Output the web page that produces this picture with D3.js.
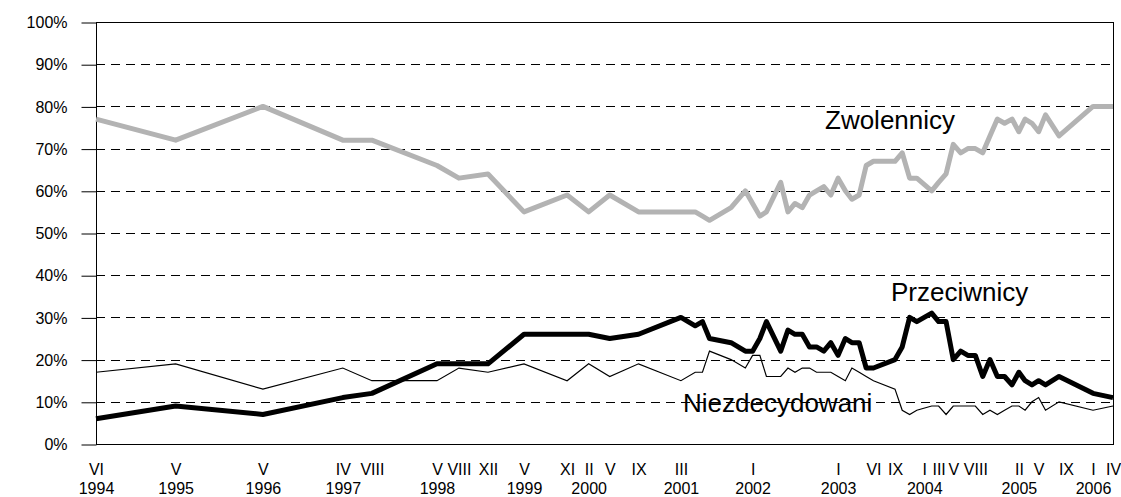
<!DOCTYPE html>
<html>
<head>
<meta charset="utf-8">
<script src="https://cdn.jsdelivr.net/npm/d3@7"></script>
<style>
body { margin: 0; background: #fff; }
text { font-family: "Liberation Sans", Arial, sans-serif; fill: #000; }
</style>
</head>
<body>
<script>
// survey dates (year-month)
var dates = ["1994-06","1995-05","1996-05","1997-04","1997-08","1998-05","1998-08","1998-12",
    "1999-05","1999-11","2000-02","2000-05","2000-09","2001-03","2001-05","2001-06","2001-07",
    "2001-10","2001-12","2002-01","2002-02","2002-03","2002-05","2002-06","2002-07","2002-08",
    "2002-09","2002-10","2002-11","2002-12","2003-01","2003-02","2003-03","2003-04","2003-05",
    "2003-06","2003-09","2003-10","2003-11","2003-12","2004-02","2004-03","2004-04","2004-05",
    "2004-06","2004-07","2004-08","2004-09","2004-10","2004-11","2004-12","2005-01","2005-02",
    "2005-03","2005-04","2005-05","2005-06","2005-08","2006-01","2006-04"];

var zwolennicy = [77,72,80,72,72,66,63,64,
    55,59,55,59,55,55,55,54,53,
    56,60,57,54,55,62,55,57,56,
    59,60,61,59,63,60,58,59,66,
    67,67,69,63,63,60,62,64,71,
    69,70,70,69,73,77,76,77,74,
    77,76,74,78,73,80,80];

var przeciwnicy = [6,9,7,11,12,19,19,19,
    26,26,26,25,26,30,28,29,25,
    24,22,22,25,29,22,27,26,26,
    23,23,22,24,21,25,24,24,18,
    18,20,23,30,29,31,29,29,20,
    22,21,21,16,20,16,16,14,17,
    15,14,15,14,16,12,11];

var niezdecydowani = [17,19,13,18,15,15,18,17,
    19,15,19,16,19,15,17,17,22,
    20,18,21,21,16,16,18,17,18,
    18,17,17,17,16,15,18,17,16,
    15,13,8,7,8,9,9,7,9,
    9,9,9,7,8,7,8,9,9,
    8,10,11,8,10,8,9];

// x axis labels: month ticks and year under the first tick of each year
var monthTicks = ["1994-06","1995-05","1996-05","1997-04","1997-08","1998-05","1998-08","1998-12",
    "1999-05","1999-11","2000-02","2000-05","2000-09","2001-03","2002-01","2003-01","2003-06",
    "2003-09","2004-01","2004-03","2004-05","2004-08","2005-02","2005-05","2005-09","2006-01","2006-04"];
var yearTicks = ["1994-06","1995-05","1996-05","1997-04","1998-05","1999-05","2000-02","2001-03",
    "2002-01","2003-01","2004-01","2005-02","2006-01"];
var roman = ["I","II","III","IV","V","VI","VII","VIII","IX","X","XI","XII"];
var yTicks = [0,10,20,30,40,50,60,70,80,90,100];

var width = 1121;
var height = 497;
var plotLeft = 96, plotRight = 1113, plotTop = 22, plotBottom = 444;

var parse = d3.timeParse("%Y-%m");

var svg = d3.select("body").append("svg")
    .attr("width", width)
    .attr("height", height);

// time axis, a little uneven in the original so a few anchors
var x = d3.scaleTime()
    .domain(["1994-06","1999-05","2003-09","2005-01","2006-04"].map(parse))
    .range([plotLeft, 524, 895, 1012, plotRight]);

var y = d3.scaleLinear()
    .domain([0, 100])
    .range([plotBottom, plotTop]);

// dashed grid
svg.selectAll(".grid")
    .data(yTicks.slice(1, -1))
    .enter()
    .append("line")
    .attr("class", "grid")
    .attr("x1", plotLeft)
    .attr("x2", plotRight)
    .attr("y1", function (d) { return Math.round(y(d)) + 0.5; })
    .attr("y2", function (d) { return Math.round(y(d)) + 0.5; })
    .attr("stroke", "#000")
    .attr("stroke-width", 1)
    .attr("stroke-dasharray", "9,6");

// frame
svg.append("rect")
    .attr("x", plotLeft + 0.5)
    .attr("y", plotTop + 0.5)
    .attr("width", plotRight - plotLeft)
    .attr("height", plotBottom - plotTop)
    .attr("fill", "none")
    .attr("stroke", "#000")
    .attr("stroke-width", 1);

// y axis
var yAxis = svg.append("g")
    .attr("transform", "translate(" + (plotLeft + 0.5) + ",0.5)")
    .call(d3.axisLeft(y)
        .tickValues(yTicks)
        .tickSize(15)
        .tickPadding(14)
        .tickFormat(function (d) { return d + "%"; }));
yAxis.select(".domain").remove();
yAxis.selectAll("text").style("font-size", "16px").attr("font-family", null);

// x axis, two rows
var monthAxis = svg.append("g")
    .attr("transform", "translate(0," + plotBottom + ")")
    .call(d3.axisBottom(x)
        .tickValues(monthTicks.map(parse))
        .tickSize(0)
        .tickPadding(20)
        .tickFormat(function (d) { return roman[d.getMonth()]; }));
monthAxis.select(".domain").remove();
monthAxis.selectAll("text").style("font-size", "16px").attr("font-family", null);

var yearAxis = svg.append("g")
    .attr("transform", "translate(0," + plotBottom + ")")
    .call(d3.axisBottom(x)
        .tickValues(yearTicks.map(parse))
        .tickSize(0)
        .tickPadding(39)
        .tickFormat(d3.timeFormat("%Y")));
yearAxis.select(".domain").remove();
yearAxis.selectAll("text").style("font-size", "16px").attr("font-family", null);

// lines
function series(values) {
    return values.map(function (v, i) { return { date: parse(dates[i]), value: v }; });
}

var line = d3.line()
    .x(function (d) { return x(d.date); })
    .y(function (d) { return y(d.value); });

svg.append("path")
    .datum(series(niezdecydowani))
    .attr("d", line)
    .attr("fill", "none")
    .attr("stroke", "#000")
    .attr("stroke-width", 1.2);

svg.append("path")
    .datum(series(przeciwnicy))
    .attr("d", line)
    .attr("fill", "none")
    .attr("stroke", "#000")
    .attr("stroke-width", 5)
    .attr("stroke-linejoin", "round");

svg.append("path")
    .datum(series(zwolennicy))
    .attr("d", line)
    .attr("fill", "none")
    .attr("stroke", "#b3b3b3")
    .attr("stroke-width", 5)
    .attr("stroke-linejoin", "round");

// series names
svg.append("text").attr("x", 825).attr("y", 129).style("font-size", "26px").text("Zwolennicy");
svg.append("text").attr("x", 891).attr("y", 301).style("font-size", "26px").text("Przeciwnicy");
svg.append("text").attr("x", 683).attr("y", 412).style("font-size", "26px").text("Niezdecydowani");
</script>
</body>
</html>
